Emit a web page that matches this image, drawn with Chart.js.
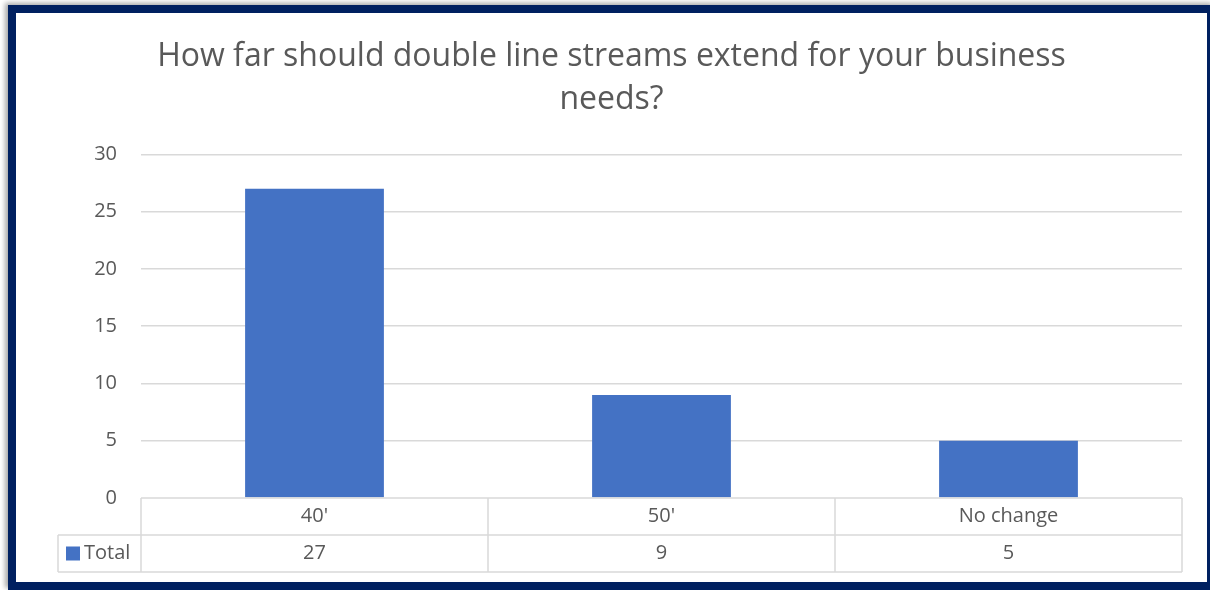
<!DOCTYPE html>
<html>
<head>
<meta charset="utf-8">
<script src="https://cdn.jsdelivr.net/npm/chart.js@4"></script>
<style>
    html, body { margin: 0; padding: 0; background: #ffffff; overflow: hidden; }
    .frame {
        position: absolute;
        left: 8px;
        top: 5px;
        width: 1191px;
        height: 569px;
        border: 8px solid #002060;
        background: #ffffff;
        box-shadow: -3px -2px 5px rgba(0, 0, 0, 0.35);
    }
    canvas { display: block; }
</style>
</head>
<body>
<div class="frame">
    <canvas id="surveyChart" width="1191" height="569"></canvas>
</div>
<script>
// Chart data
const titleLines = ['How far should double line streams extend for your business', 'needs?'];
const categories = ["40'", "50'", 'No change'];
const seriesName = 'Total';
const totals = [27, 9, 5];
const yTicks = [0, 5, 10, 15, 20, 25, 30];

const BAR_COLOR = '#4472C4';
const TEXT_COLOR = '#595959';
const LINE_COLOR = '#D9D9D9';
const FONT = '"Open Sans", Lato, sans-serif';

/**
 * Draws the data table under the plot area
 */
const dataTablePlugin = {
    id: 'dataTable',
    afterDraw(chart) {
        const ctx = chart.ctx;
        const area = chart.chartArea;
        const x = chart.scales.x;
        const catWidth = (area.right - area.left) / categories.length;
        const rowTop = area.bottom;
        const rowMid = rowTop + 37;
        const rowBottom = rowMid + 37;
        const legendLeft = 42;

        ctx.save();
        ctx.strokeStyle = LINE_COLOR;
        ctx.lineWidth = 1.5;
        ctx.beginPath();
        // horizontal lines
        ctx.moveTo(area.left, rowTop);
        ctx.lineTo(area.right, rowTop);
        ctx.moveTo(legendLeft, rowMid);
        ctx.lineTo(area.right, rowMid);
        ctx.moveTo(legendLeft, rowBottom);
        ctx.lineTo(area.right, rowBottom);
        // vertical lines
        ctx.moveTo(legendLeft, rowMid);
        ctx.lineTo(legendLeft, rowBottom);
        for (let i = 0; i <= categories.length; i++) {
            const px = area.left + i * catWidth;
            ctx.moveTo(px, rowTop);
            ctx.lineTo(px, rowBottom);
        }
        ctx.stroke();

        ctx.fillStyle = TEXT_COLOR;
        ctx.font = '20px ' + FONT;
        ctx.textAlign = 'center';
        ctx.textBaseline = 'middle';
        categories.forEach((label, i) => {
            const cx = x.getPixelForValue(i);
            ctx.fillText(label, cx, (rowTop + rowMid) / 2);
            ctx.fillText(String(totals[i]), cx, (rowMid + rowBottom) / 2);
        });

        // legend key
        ctx.fillStyle = BAR_COLOR;
        ctx.fillRect(legendLeft + 8, (rowMid + rowBottom) / 2 - 7, 14, 14);
        ctx.fillStyle = TEXT_COLOR;
        ctx.textAlign = 'left';
        ctx.fillText(seriesName, legendLeft + 26, (rowMid + rowBottom) / 2);
        ctx.restore();
    },
};

const ctx = document.getElementById('surveyChart');

new Chart(ctx, {
    type: 'bar',
    data: {
        labels: categories,
        datasets: [{
            label: seriesName,
            data: totals,
            backgroundColor: BAR_COLOR,
            categoryPercentage: 1,
            barPercentage: 0.4,
        }],
    },
    options: {
        responsive: false,
        animation: false,
        layout: {
            padding: { top: 22, left: 25, right: 25, bottom: 84 },
        },
        plugins: {
            legend: { display: false },
            tooltip: { enabled: false },
            title: {
                display: true,
                text: titleLines,
                color: TEXT_COLOR,
                font: { family: FONT, size: 32, weight: 'normal', lineHeight: 1.35 },
                padding: { top: 0, bottom: 33 },
            },
        },
        scales: {
            x: {
                display: false,
            },
            y: {
                min: 0,
                max: 30,
                afterBuildTicks: (scale) => {
                    scale.ticks = yTicks.map(v => ({ value: v }));
                },
                afterFit: (scale) => {
                    scale.width = 100;
                },
                border: { display: false },
                grid: {
                    color: (c) => (c.tick && c.tick.value === 0 ? 'rgba(0,0,0,0)' : LINE_COLOR),
                    lineWidth: 1.5,
                    drawTicks: false,
                },
                ticks: {
                    color: TEXT_COLOR,
                    padding: 24,
                    font: { family: FONT, size: 20 },
                },
            },
        },
    },
    plugins: [dataTablePlugin],
});
</script>
</body>
</html>
